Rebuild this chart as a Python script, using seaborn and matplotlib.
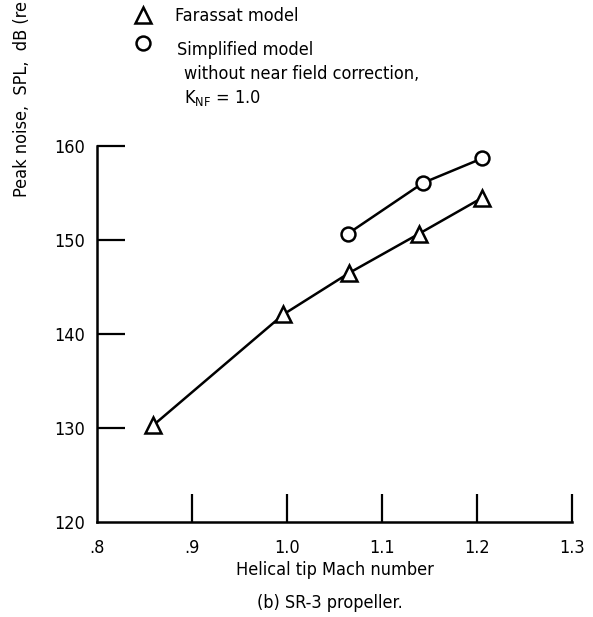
import pandas as pd
import matplotlib
matplotlib.use("Agg")
import matplotlib.pyplot as plt
from matplotlib.lines import Line2D
import seaborn as sns

sns.set_style("ticks")
plt.rcParams["font.family"] = ["DejaVu Sans"]
plt.rcParams["font.stretch"] = "condensed"
plt.rcParams["text.color"] = "black"
plt.rcParams["axes.labelcolor"] = "black"
plt.rcParams["xtick.color"] = "black"
plt.rcParams["ytick.color"] = "black"

# Farassat model (triangles)
farassat_mach = [0.859, 0.996, 1.065, 1.139, 1.205]
farassat_spl = [130.3, 142.1, 146.5, 150.7, 154.5]

# Simplified model, K_NF = 1.0 (circles)
simple_mach = [1.064, 1.143, 1.205]
simple_spl = [150.7, 156.1, 158.7]

x_ticks = [0.8, 0.9, 1.0, 1.1, 1.2, 1.3]
x_labels = [".8", ".9", "1.0", "1.1", "1.2", "1.3"]
y_ticks = [120, 130, 140, 150, 160]

df_f = pd.DataFrame({"mach": farassat_mach, "spl": farassat_spl})
df_s = pd.DataFrame({"mach": simple_mach, "spl": simple_spl})

fig = plt.figure(figsize=(5.93, 6.17), dpi=100)
ax = fig.add_axes([0.164, 0.154, 0.801, 0.609])

line_kw = dict(color="black", linewidth=1.8, markerfacecolor="white",
               markeredgecolor="black", markeredgewidth=1.8)
sns.lineplot(data=df_f, x="mach", y="spl", marker="^", markersize=11, ax=ax, **line_kw)
sns.lineplot(data=df_s, x="mach", y="spl", marker="o", markersize=10, ax=ax, **line_kw)

ax.set_xlim(0.8, 1.3)
ax.set_ylim(120, 160)
ax.set_xticks(x_ticks)
ax.set_xticklabels(x_labels)
ax.set_yticks(y_ticks)
ax.tick_params(direction="in", length=20, width=1.6, labelsize=13, pad=12, color="black")
ax.tick_params(axis="y", pad=9)
ax.xaxis.get_major_ticks()[0].tick1line.set_visible(False)
ax.yaxis.get_major_ticks()[0].tick1line.set_visible(False)
for s in ["top", "right"]:
    ax.spines[s].set_visible(False)
for s in ["left", "bottom"]:
    ax.spines[s].set_linewidth(1.8)
    ax.spines[s].set_color("black")
ax.set_xlabel("Helical tip Mach number", fontsize=13, labelpad=3)
ax.set_ylabel("")

fig.text(22 / 593, 1 - 197 / 617, "Peak noise,  SPL,  dB (re 20 \u03bcPa)",
         rotation=90, ha="center", va="bottom", fontsize=13)
fig.text(330 / 593, 1 - 603 / 617, "(b) SR-3 propeller.", ha="center", va="center", fontsize=13)

# legend, drawn by hand
fig.add_artist(Line2D([143 / 593], [1 - 15 / 617], marker="^", markersize=11,
                      markerfacecolor="white", markeredgecolor="black",
                      markeredgewidth=1.8, linestyle="none"))
fig.add_artist(Line2D([143 / 593], [1 - 43 / 617], marker="o", markersize=10,
                      markerfacecolor="white", markeredgecolor="black",
                      markeredgewidth=1.8, linestyle="none"))
fig.text(175 / 593, 1 - 16 / 617, "Farassat model", va="center", fontsize=13)
fig.text(177 / 593, 1 - 50 / 617, "Simplified model", va="center", fontsize=13)
fig.text(184 / 593, 1 - 74 / 617, "without near field correction,", va="center", fontsize=13)
fig.text(184 / 593, 1 - 98 / 617, r"K$_{\mathrm{NF}}$ = 1.0", va="center", fontsize=13)

fig.savefig("out.png", dpi=100)
